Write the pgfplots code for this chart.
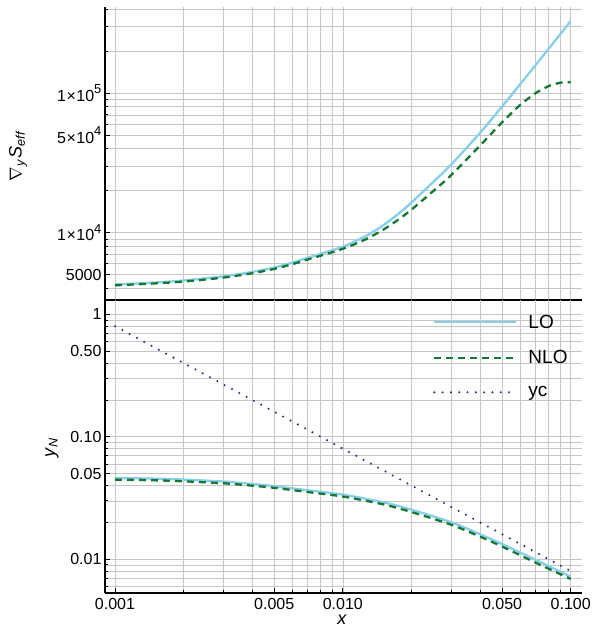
\documentclass[border=0pt]{standalone}
\usepackage{fontspec}
\setmainfont{Liberation Sans}
\usepackage{graphicx}
\usepackage{pgfplots}
\pgfplotsset{compat=1.18}
\definecolor{locol}{RGB}{135,206,235}
\definecolor{nlocol}{RGB}{20,120,50}
\definecolor{yccol}{RGB}{45,40,145}

\pgfplotstableread{
x lo nlo
0.001 4250 4190
0.0015 4390 4325
0.002 4540 4460
0.003 4860 4765
0.004 5230 5115
0.005 5630 5495
0.006 6100 5940
0.007 6600 6415
0.008 7050 6840
0.01 7940 7660
0.0125 9380 8910
0.015 11270 10480
0.0175 13620 12390
0.02 16440 14630
0.025 23200 19950
0.03 31000 26040
0.04 52000 42120
0.05 80400 61900
0.06 116000 82360
0.07 158800 100000
0.08 208400 112500
0.09 265300 119000
0.1 329400 120200
}\topdata

\pgfplotstableread{
x lo nlo
0.001 0.0461 0.0447
0.0015 0.0455 0.0441
0.002 0.0447 0.0433
0.003 0.0431 0.0417
0.004 0.0412 0.0399
0.005 0.0395 0.0383
0.007 0.0366 0.0354
0.01 0.0337 0.0325
0.015 0.0292 0.0281
0.02 0.0254 0.0243
0.03 0.0200 0.0191
0.04 0.0160 0.0153
0.05 0.0133 0.0127
0.07 0.0099 0.0094
0.1 0.0072 0.0069
}\botdata

\pgfplotstableread{
x yc
0.001 0.8
0.01 0.08
0.1 0.008
}\ycdata

\pgfplotsset{
  every axis/.append style={
    scale only axis, width=477pt, height=293pt,
    xmin=0.0009039, xmax=0.1121,
    axis lines*=left,
    axis line style={-, line width=1.4pt, black},
    tick align=inside,
    major tick length=5pt, minor tick length=3pt,
    tick style={black, line width=0.8pt},
    grid=both,
    major grid style={gray!45, line width=0.6pt},
    minor grid style={gray!45, line width=0.6pt},
    xtick={0.001,0.005,0.01,0.05,0.1},
    minor xtick={0.002,0.003,0.004,0.006,0.007,0.008,0.009,0.02,0.03,0.04,0.06,0.07,0.08,0.09},
    /pgf/number format/assume math mode=true,
    ticklabel style={font=\fontsize{16}{18}\selectfont},
  },
}
\newcommand{\sci}[2]{#1\kern0.5pt×\kern0.5pt10\raisebox{7.5pt}{\fontsize{13}{13}\selectfont #2}}

\begin{document}
\begin{tikzpicture}[x=1pt,y=1pt]
\useasboundingbox (0,0) rectangle (593,629);

\begin{loglogaxis}[
  at={(105pt,329pt)}, anchor=south west,
  ymin=3289, ymax=415900,
  ytick={5000,10000,50000,100000},
  yticklabels={5000,\sci{1}{4},\sci{5}{4},\sci{1}{5}},
  minor ytick={4000,6000,7000,8000,9000,20000,30000,40000,60000,70000,80000,90000,200000,300000,400000},
  xticklabels={},
  xtick style={draw=none},
]
\addplot[locol, line width=2.3pt, smooth] table[x=x,y=lo] {\topdata};
\addplot[nlocol, line width=2.3pt, dash pattern=on 7pt off 5pt, smooth] table[x=x,y=nlo] {\topdata};
\end{loglogaxis}

\begin{loglogaxis}[
  at={(105pt,36pt)}, anchor=south west,
  ymin=0.0053, ymax=1.309,
  ytick={0.01,0.05,0.1,0.5,1},
  yticklabels={0.01,0.05,0.10,0.50,1},
  minor ytick={0.006,0.007,0.008,0.009,0.02,0.03,0.04,0.06,0.07,0.08,0.09,0.2,0.3,0.4,0.6,0.7,0.8,0.9},
  xticklabels={0.001,0.005,0.010,0.050,0.100},
  xticklabel style={yshift=-3pt, inner sep=2pt},
  xlabel={\textit{x}},
  every axis x label/.style={at={(axis description cs:0.497,-0.108)}, anchor=base, inner sep=0pt, font=\fontsize{18}{20}\selectfont},
  legend image code/.code={\draw[#1] (0pt,0pt) -- (82pt,0pt);},
  legend style={draw=none, fill=none, inner sep=0pt, at={(0.6876,0.96)}, anchor=north west,
    row sep=15pt, nodes={inner sep=3pt}, font=\fontsize{19}{22}\selectfont,
    /tikz/every odd column/.append style={column sep=8pt}},
  legend cell align=left,
]
\addplot[locol, line width=2.3pt, smooth] table[x=x,y=lo] {\botdata};
\addlegendentry{LO}
\addplot[nlocol, line width=2.3pt, dash pattern=on 7pt off 5pt, smooth] table[x=x,y=nlo] {\botdata};
\addlegendentry{NLO}
\addplot[yccol, line width=2.3pt, line cap=round, dash pattern=on 0pt off 8.3pt] table[x=x,y=yc] {\ycdata};
\addlegendentry{yc}
\end{loglogaxis}

\node[anchor=center, inner sep=0pt, font=\fontsize{18}{20}\selectfont] at (18,473)
  {\rotatebox{90}{$\nabla$\textsubscript{\textit{y}}\kern1pt\textit{S}\textsubscript{\textit{eff}}}};
\node[anchor=center, inner sep=0pt, font=\fontsize{18}{20}\selectfont] at (52,181)
  {\rotatebox{90}{\textit{y}\textsubscript{\textit{N}}}};
\end{tikzpicture}
\end{document}
